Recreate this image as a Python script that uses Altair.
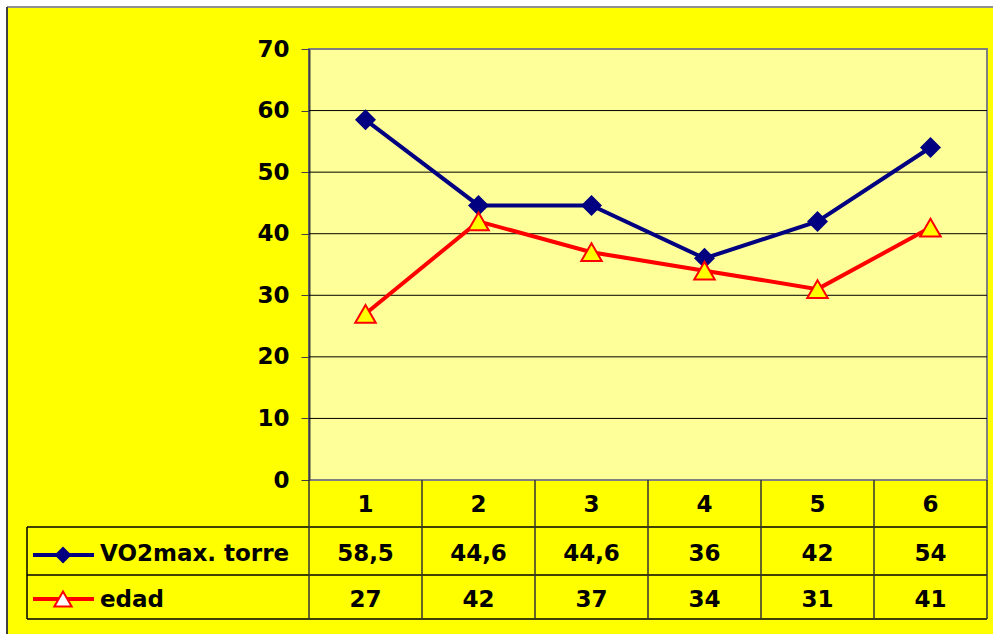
import altair as alt
import pandas as pd

# ---- data -------------------------------------------------------------
categories = ["1", "2", "3", "4", "5", "6"]
vo2max = [58.5, 44.6, 44.6, 36, 42, 54]
edad = [27, 42, 37, 34, 31, 41]
series_names = ["VO2max. torre", "edad"]
y_ticks = [0, 10, 20, 30, 40, 50, 60, 70]
grid_values = [10, 20, 30, 40, 50, 60]


def fmt(v):
    # decimal comma, no trailing zeros
    return f"{v:g}".replace(".", ",")


# ---- layout / style ---------------------------------------------------
W, H = 678, 431               # plot area
PAD = {"left": 309, "top": 49, "right": 6, "bottom": 154}
FONT = "DejaVu Sans"
FS = 23
NAVY = "#000080"
RED = "#FF0000"
YELLOW = "#FFFF00"
PLOT_BG = "#FFFF99"

ROW_HEADER_Y = 456            # centre of category row (relative to plot top)
ROW_VO2_Y = 505
ROW_EDAD_Y = 551
TABLE_LINES_Y = [478, 526, 570]
TABLE_BOTTOM = 570
TABLE_LEFT = -282
LEG_X0, LEG_X1, LEG_MARK_X, LEG_TEXT_X = -276, -215, -246, -209

df_vo2 = pd.DataFrame({"cat": categories, "value": vo2max,
                       "label": [fmt(v) for v in vo2max]})
df_edad = pd.DataFrame({"cat": categories, "value": edad,
                        "label": [fmt(v) for v in edad]})
df_cat = pd.DataFrame({"cat": categories})
df_last = pd.DataFrame({"cat": [categories[-1]]})
df_grid = pd.DataFrame({"g": grid_values})
one = pd.DataFrame({"k": [0]})
df_names = pd.DataFrame({"name": series_names})

xscale = alt.Scale(type="band", domain=categories, paddingInner=0, paddingOuter=0)
yscale = alt.Scale(domain=[0, 70], nice=False, zero=True)

y_axis = alt.Axis(values=y_ticks, title=None, grid=False,
                  domainColor="#404040", domainWidth=2,
                  tickColor="#404040", tickSize=8, tickWidth=1,
                  labelFont=FONT, labelFontSize=FS, labelFontWeight="bold",
                  labelColor="black", labelPadding=12)

x_mid = alt.X("cat:O", scale=xscale, bandPosition=0.5, axis=None)

layers = []

# page margin strips and outer frame
layers.append(alt.Chart(one).mark_rect(color="white").encode(
    x=alt.value(-PAD["left"]), x2=alt.value(W + PAD["right"]),
    y=alt.value(-PAD["top"]), y2=alt.value(-42)))
layers.append(alt.Chart(one).mark_rect(color="white").encode(
    x=alt.value(-PAD["left"]), x2=alt.value(-302),
    y=alt.value(-PAD["top"]), y2=alt.value(H + PAD["bottom"])))
layers.append(alt.Chart(one).mark_rule(color="#909090", size=2).encode(
    x=alt.value(-302), x2=alt.value(W + PAD["right"]), y=alt.value(-42)))
layers.append(alt.Chart(one).mark_rule(color="#404040", size=2).encode(
    x=alt.value(-302), y=alt.value(-42), y2=alt.value(H + PAD["bottom"])))

# horizontal gridlines
layers.append(alt.Chart(df_grid).mark_rule(color="black", size=1).encode(
    y=alt.Y("g:Q", scale=yscale, axis=y_axis)))

# data table grid
for ty in TABLE_LINES_Y:
    layers.append(alt.Chart(one).mark_rule(color="black", size=1.5).encode(
        x=alt.value(TABLE_LEFT), x2=alt.value(W), y=alt.value(ty)))
layers.append(alt.Chart(one).mark_rule(color="black", size=1.5).encode(
    x=alt.value(TABLE_LEFT), y=alt.value(TABLE_LINES_Y[0]), y2=alt.value(TABLE_BOTTOM)))
layers.append(alt.Chart(df_cat).mark_rule(color="#333333", size=1.5).encode(
    x=alt.X("cat:O", scale=xscale, bandPosition=0, axis=None),
    y=alt.value(H), y2=alt.value(TABLE_BOTTOM)))
layers.append(alt.Chart(df_last).mark_rule(color="#333333", size=1.5).encode(
    x=alt.X("cat:O", scale=xscale, bandPosition=1, axis=None),
    y=alt.value(H), y2=alt.value(TABLE_BOTTOM)))

# series
layers.append(alt.Chart(df_vo2).mark_line(color=NAVY, strokeWidth=4).encode(
    x=x_mid, y=alt.Y("value:Q", scale=yscale, axis=y_axis)))
layers.append(alt.Chart(df_vo2).mark_point(shape="diamond", filled=True, size=441,
                                           color=NAVY, opacity=1).encode(
    x=x_mid, y=alt.Y("value:Q", scale=yscale, axis=y_axis)))
layers.append(alt.Chart(df_edad).mark_line(color=RED, strokeWidth=4).encode(
    x=x_mid, y=alt.Y("value:Q", scale=yscale, axis=y_axis)))
layers.append(alt.Chart(df_edad).mark_point(shape="triangle-up", filled=True, size=420,
                                            fill=YELLOW, stroke=RED, strokeWidth=2,
                                            opacity=1).encode(
    x=x_mid, y=alt.Y("value:Q", scale=yscale, axis=y_axis)))

# table text
txt = dict(font=FONT, fontSize=FS, fontWeight="bold", color="black",
           align="center", baseline="middle")
layers.append(alt.Chart(df_cat).mark_text(**txt).encode(
    x=x_mid, y=alt.value(ROW_HEADER_Y), text="cat:N"))
layers.append(alt.Chart(df_vo2).mark_text(**txt).encode(
    x=x_mid, y=alt.value(ROW_VO2_Y), text="label:N"))
layers.append(alt.Chart(df_edad).mark_text(**txt).encode(
    x=x_mid, y=alt.value(ROW_EDAD_Y), text="label:N"))

# row headers (legend keys)
for row_y, col in [(ROW_VO2_Y + 1, NAVY), (ROW_EDAD_Y - 1, RED)]:
    layers.append(alt.Chart(one).mark_rule(color=col, size=4).encode(
        x=alt.value(LEG_X0), x2=alt.value(LEG_X1), y=alt.value(row_y)))
layers.append(alt.Chart(one).mark_point(shape="diamond", filled=True, size=289,
                                        color=NAVY, opacity=1).encode(
    x=alt.value(LEG_MARK_X), y=alt.value(ROW_VO2_Y + 1)))
layers.append(alt.Chart(one).mark_point(shape="triangle-up", filled=True, size=300,
                                        fill="white", stroke=RED, strokeWidth=2,
                                        opacity=1).encode(
    x=alt.value(LEG_MARK_X), y=alt.value(ROW_EDAD_Y - 1)))
name_txt = dict(font=FONT, fontSize=FS, fontWeight="bold", color="black",
                align="left", baseline="middle")
layers.append(alt.Chart(df_names.iloc[[0]]).mark_text(**name_txt).encode(
    x=alt.value(LEG_TEXT_X), y=alt.value(ROW_VO2_Y), text="name:N"))
layers.append(alt.Chart(df_names.iloc[[1]]).mark_text(**name_txt).encode(
    x=alt.value(LEG_TEXT_X), y=alt.value(ROW_EDAD_Y), text="name:N"))

chart = alt.layer(*layers).properties(
    width=W, height=H,
    autosize=alt.AutoSizeParams(type="none"),
    padding=PAD,
    background=YELLOW,
).configure_view(
    fill=PLOT_BG, stroke="#808080", strokeWidth=2
)

chart.save("out.html", embed_options={"renderer": "svg", "actions": False})
